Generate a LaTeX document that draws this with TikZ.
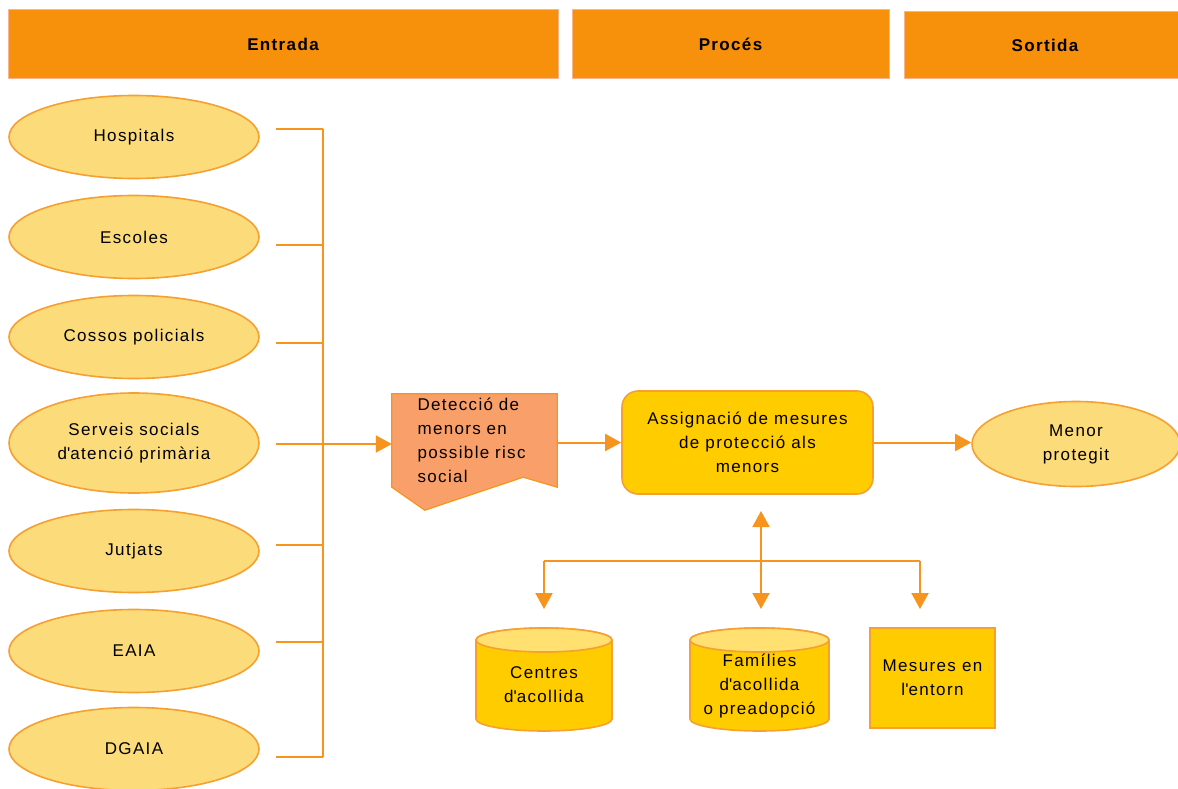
\documentclass[tikz,border=0pt]{standalone}
\usepackage{fontspec}
\setmainfont{Liberation Sans}[LetterSpace=8]
\usetikzlibrary{shapes.geometric,arrows.meta}
\pgfdeclarelayer{bg}
\pgfsetlayers{bg,main}

\definecolor{hdrorange}{HTML}{F7900A}
\definecolor{hdrline}{HTML}{FBB48C}
\definecolor{ellfill}{HTML}{FCDB7A}
\definecolor{ellline}{HTML}{F5A031}
\definecolor{wireorange}{HTML}{F7941E}
\definecolor{salmon}{HTML}{F9A06A}
\definecolor{gold}{HTML}{FFCC00}
\definecolor{goldlight}{HTML}{FFE070}

% cylinder body and lid: centre x, top y, bottom y, half width
\newcommand\drumshape[4]{%
  \path[cylstyle, fill=gold] (#1-#4,#2+12) -- (#1-#4,#3-12)
    arc[start angle=180,end angle=360,x radius=#4pt,y radius=12pt]
    -- (#1+#4,#2+12)
    arc[start angle=0,end angle=180,x radius=#4pt,y radius=12pt] -- cycle;
  \path[cylstyle, fill=goldlight] (#1,#2+12) ellipse[x radius=#4pt,y radius=12pt];}

\newcommand\apos{\textquotesingle}

\begin{document}
\begin{tikzpicture}[x=1pt,y=-1pt,
  font=\fontsize{17}{24}\selectfont,
  hdr/.style={rectangle, fill=hdrorange, draw=hdrline, line width=1pt,
    inner sep=0, font=\fontsize{17}{24}\selectfont\bfseries},
  src/.style={ellipse, fill=ellfill, draw=ellline, line width=1.6pt,
    minimum width=250pt, minimum height=83pt, inner sep=0, align=center},
  wire/.style={draw=wireorange, line width=2pt},
  arr/.style={wire, -{Triangle[length=16pt,width=17pt]}},
  dbl/.style={wire, {Triangle[length=16pt,width=17pt]}-{Triangle[length=16pt,width=17pt]}},
  cylstyle/.style={draw=ellline, line width=1.6pt},
  txt/.style={inner sep=0, align=center}]

\clip (0,0) rectangle (1178,789);
\begin{pgfonlayer}{bg}
  \fill[white] (0,0) rectangle (1178,789);
\end{pgfonlayer}

% column headers
\node[hdr, minimum width=550pt, minimum height=69pt] (hin) at (283,44.5) {Entrada};
\node[hdr, minimum width=317pt, minimum height=69pt] (hproc) at (730.5,44.5) {Procés};
\node[hdr, minimum width=282pt, minimum height=67pt] (hout) at (1045,45.5) {Sortida};

% sources
\node[src] (hosp) at (134,137) {Hospitals};
\node[src] (esc) at (134,237) {Escoles};
\node[src] (cos) at (134,337) {Cossos policials};
\node[src, minimum height=100pt] (serv) at (134,443) {Serveis socials\\d\apos atenció primària};
\node[src] (jut) at (134,551) {Jutjats};
\node[src] (eaia) at (134,651) {EAIA};
\node[src] (dgaia) at (134,749) {DGAIA};

% collecting bus
\coordinate (b1) at (323,129);
\coordinate (b2) at (323,245);
\coordinate (b3) at (323,343);
\coordinate (b4) at (323,444);
\coordinate (b5) at (323,545);
\coordinate (b6) at (323,642);
\coordinate (b7) at (323,757);
\draw[wire, shorten <=16pt] (hosp.east |- b1) -- (b1);
\draw[wire, shorten <=16pt] (esc.east |- b2) -- (b2);
\draw[wire, shorten <=16pt] (cos.east |- b3) -- (b3);
\draw[wire, shorten <=16pt] (jut.east |- b5) -- (b5);
\draw[wire, shorten <=16pt] (eaia.east |- b6) -- (b6);
\draw[wire, shorten <=16pt] (dgaia.east |- b7) -- (b7);
\draw[wire] (b1) -- (b7);

% process
\node[inner sep=0, minimum width=165pt, minimum height=93pt, text width=114pt,
  align=left] (det) at (474.5,440.5) {Detecció de\\menors en\\possible risc\\social};
\begin{pgfonlayer}{bg}
  \path[fill=salmon, draw=wireorange, line width=1.2pt]
    (det.north west) -- (det.north east) -- (det.south east)
    -- ([xshift=-34pt,yshift=10pt]det.south east)
    -- ([xshift=33pt,yshift=-23pt]det.south west)
    -- (det.south west) -- cycle;
\end{pgfonlayer}

\node[rectangle, rounded corners=16pt, fill=gold, draw=ellline, line width=1.6pt,
  minimum width=251pt, minimum height=103pt, txt] (asg) at (747.5,442.5)
  {Assignació de mesures\\de protecció als\\menors};

\node[src, minimum width=208pt, minimum height=85pt] (menor) at (1076,444) {Menor\\protegit};

\draw[arr, shorten <=16pt] (serv.east |- b4) -- (b4 -| det.west);
\draw[arr] (det.east |- asg.west) -- (asg.west);
\draw[arr] (asg.east) -- (asg.east -| menor.west);

% measures
\begin{pgfonlayer}{bg}
  \drumshape{544}{628}{731}{68}
  \drumshape{759.5}{628}{731}{69.5}
\end{pgfonlayer}
\node[txt] (cent) at (544,685) {Centres\\d\apos acollida};
\node[txt] (fam) at (759.5,686) {Famílies\\d\apos acollida\\o preadopció};
\node[rectangle, fill=gold, draw=ellline, line width=1.6pt, minimum width=125pt,
  minimum height=100pt, txt] (ent) at (932.5,678) {Mesures en\\l\apos entorn};

\coordinate (dl) at (544,561);
\coordinate (dm) at (761,561);
\coordinate (dr) at (920,561);
\coordinate (tl) at (544,609);
\coordinate (tr) at (920,609);
\coordinate (vt) at (761,511);
\coordinate (vb) at (761,609);
\draw[wire] (dl) -- (dr);
\draw[arr] (dl) -- (tl);
\draw[arr] (dr) -- (tr);
\draw[dbl] (vt) -- (vb);
\end{tikzpicture}
\end{document}
